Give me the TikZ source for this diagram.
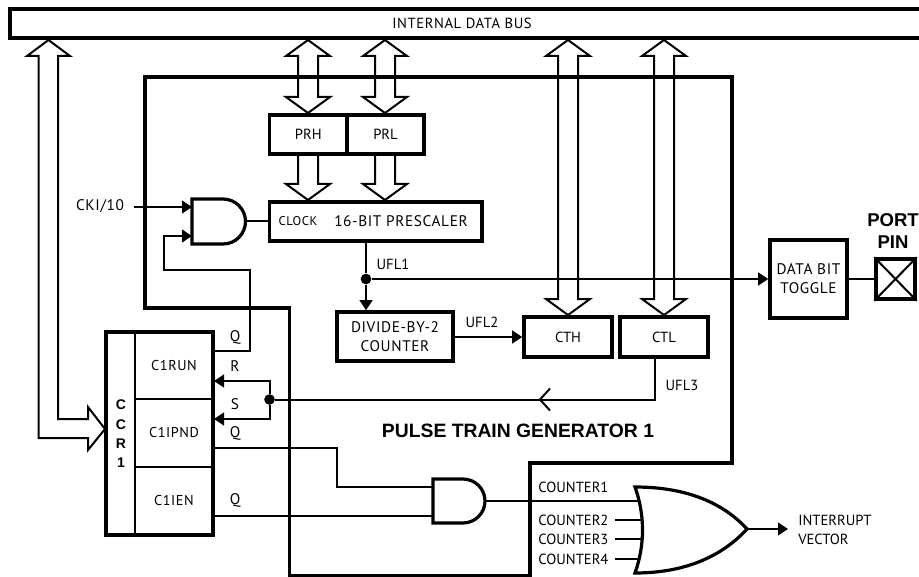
\documentclass[tikz,border=0pt]{standalone}
\usepackage{fontspec}
\setmainfont[LetterSpace=4]{PT Sans}
\newfontfamily\nrw{PT Sans}
\newfontfamily\hbfont{Liberation Sans}
\usetikzlibrary{arrows.meta,calc}
\newcommand\lab{\fontsize{11.5pt}{14.3pt}\selectfont}
\newcommand\labn{\nrw\fontsize{11pt}{14.3pt}\selectfont}
\newcommand\labm{\fontsize{10.7pt}{14.3pt}\selectfont}
\newcommand\hollowv[3]{\draw[hollow] (#1-10,#2+16) -- (#1-22,#2+16) -- (#1,#2) -- (#1+22,#2+16) -- (#1+10,#2+16) -- (#1+10,#3-16) -- (#1+22,#3-16) -- (#1,#3) -- (#1-22,#3-16) -- (#1-10,#3-16) -- cycle;}
\newcommand\hollowd[3]{\draw[hollow] (#1-10,#2) -- (#1-10,#3-16) -- (#1-22,#3-16) -- (#1,#3) -- (#1+22,#3-16) -- (#1+10,#3-16) -- (#1+10,#2);}
\newcommand\regbox[7][thickbox]{\node[#1,minimum width={(#5-#3)*0.75pt},minimum height={(#6-#4)*0.75pt}] (#2) at ({(#3+#5)/2},{(#4+#6)/2}) {#7};}
\tikzset{
  x=0.75pt,y=-0.75pt,
  thickbox/.style={draw,line width=2.7pt,inner sep=0pt,font=\lab,align=center},
  thinbox/.style={draw,line width=1.5pt,inner sep=0pt,font=\labm,align=center},
  hollow/.style={line width=1.5pt,line join=miter},
  conn/.style={line width=1.5pt},
  arr/.style={conn,-{Triangle[length=7.5pt,width=9.5pt]}},
  frame/.style={line width=2.3pt,line join=miter},
  gate/.style={line width=2.4pt,line join=miter},
  lbl/.style={font=\lab,inner sep=0pt},
  nlbl/.style={font=\labn,inner sep=0pt},
  dot/.style={circle,fill=black,draw=none,minimum size=8pt,inner sep=0pt},
  boldtxt/.style={font=\hbfont\bfseries,inner sep=0pt,align=center},
}
\begin{document}
\begin{tikzpicture}
\useasboundingbox (0,0) rectangle (919,577);
% data bus
\draw[line width=2.7pt,line join=miter] (919,9) -- (10,9) -- (10,38) -- (919,38);
\node[lbl,font=\fontsize{11pt}{14pt}\selectfont] (bus) at (462,23) {INTERNAL DATA BUS};
% pulse train frame
\draw[frame] (145,77) -- (732,77) -- (732,463) -- (530,463) -- (530,576) -- (289.5,576) -- (289.5,308) -- (145,308) -- cycle;
% hollow bus arrows
\draw[hollow] (38.5,438) -- (88,438) -- (88,450) -- (105,429) -- (88,407) -- (88,419) -- (58,419) -- (58,56) -- (70,56) -- (48.5,40) -- (27,56) -- (38.5,56) -- cycle;
\hollowv{308}{40}{113}
\hollowv{385}{40}{113}
\hollowv{568}{40}{315}
\hollowv{664}{40}{315}
\hollowd{308}{154}{200}
\hollowd{385}{154}{200}
% boxes
\regbox[thickbox,font=\labn]{prh}{269.5}{115}{347}{154}{PRH}
\regbox[thickbox,font=\labn]{prl}{347}{115}{424}{154}{PRL}
\regbox{presc}{269.5}{202}{482}{241}{}
\node[lbl] (clock) at (298,221) {\fontsize{9.5pt}{12pt}\selectfont CLOCK};
\node[lbl] (prestxt) at (401,221) {16-BIT PRESCALER};
\regbox{divide}{337}{312}{453}{361}{DIVIDE-BY-2\\COUNTER}
\regbox[thickbox,font=\labn]{cth}{524}{317}{612}{357}{CTH}
\regbox[thickbox,font=\labn]{ctl}{620}{317}{708}{357}{CTL}
\regbox{toggle}{770}{240}{847}{318}{DATA BIT\\TOGGLE}
\regbox{pin}{876}{259}{915}{299}{}
\draw[conn] (pin.north west) -- (pin.south east) (pin.south west) -- (pin.north east);
\node[boldtxt,font=\hbfont\bfseries\fontsize{13.9pt}{16.5pt}\selectfont] (port) at (893,231) {PORT\\PIN};
% CCR
\regbox[thinbox]{run}{135}{332}{213}{399}{C1RUN}
\regbox[thinbox]{ipnd}{135}{399}{213}{467}{C1IPND}
\regbox[thinbox]{ien}{135}{467}{213}{535}{C1IEN}
\regbox{ccr}{106}{332}{213}{535}{}
\draw[line width=1.8pt] (135,332) -- (135,535);
\node[boldtxt,font=\hbfont\bfseries\fontsize{10.5pt}{14.5pt}\selectfont] (ccrt) at (121,434) {C\\C\\R\\1};
\node[lbl] (q1) at (235,337) {Q};
\node[lbl] (rl) at (235,366) {R};
\node[lbl] (sl) at (235,404) {S};
\node[lbl] (q2) at (235,433) {Q};
\node[lbl] (q3) at (235,500) {Q};
% AND gates
\draw[gate] (192,199) -- (223,199) arc[start angle=-90,end angle=90,radius=22.5] -- (192,244) -- cycle;
\coordinate (a1in1) at (192,207);
\coordinate (a1in2) at (192,236);
\coordinate (a1out) at (245.5,221);
\draw[gate] (433,479) -- (463,479) arc[start angle=-90,end angle=90,radius=22] -- (433,523) -- cycle;
\coordinate (a2in1) at (433,487);
\coordinate (a2in2) at (433,516);
\coordinate (a2out) at (485,501);
% OR gate
\draw[gate] (635,487) .. controls (690,487) and (725,505) .. (747,529) .. controls (725,553) and (690,573) .. (635,573) .. controls (645,545) and (645,515) .. (635,487) -- cycle;
\coordinate (orin1) at (639,501);
\coordinate (orin2) at (642.5,520);
\coordinate (orin3) at (643,539);
\coordinate (orin4) at (639,559);
\coordinate (orout) at (747,529);
% labels and connectors
\node[lbl] (cki) at (100,206) {CKI/10};
\coordinate (ckistart) at (134,207);
\draw[arr] (ckistart) -- (a1in1);
\draw[conn] (a1out) -- (presc.west |- a1out);
\coordinate (runq) at (213,351);
\draw[arr] (runq) -- (250,351) -- (250,269.5) -- (164,269.5) -- (164,236) -- (a1in2);
\node[dot] (j1) at (366,279) {};
\draw[conn] (presc.south -| j1) -- (j1);
\draw[arr] (j1) -- (divide.north -| j1);
\draw[arr] (j1) -- (toggle.west |- j1);
\node[nlbl] (ufl1) at (393,264) {UFL1};
\coordinate (u2) at (divide.east |- 0,337);
\draw[arr] (u2) -- (cth.west |- u2);
\node[nlbl] (ufl2) at (482,322) {UFL2};
\draw[conn] (toggle.east |- j1) -- (pin.west |- j1);
\node[dot] (j2) at (269.5,399.5) {};
\draw[conn] (ctl.south -| 655,0) -- (655,399.5) -- (j2);
\node[nlbl] (ufl3) at (682,385) {UFL3};
\draw[conn,line join=miter] (550,388.5) -- (540,399.5) -- (550,410.5);
\draw[arr] (j2) -- (269.5,381) -- (run.east |- 0,381);
\draw[arr] (j2) -- (269.5,419) -- (ipnd.east |- 0,419);
\coordinate (ipq) at (213,448);
\draw[conn] (ipq) -- (337,448) -- (337,487) -- (a2in1);
\coordinate (ienq) at (213,516);
\draw[conn] (ienq) -- (a2in2);
\draw[conn] (a2out) -- (orin1);
\node[boldtxt,font=\hbfont\bfseries\fontsize{14.5pt}{16pt}\selectfont] (ptg) at (518,431) {PULSE TRAIN GENERATOR 1};
\node[nlbl,anchor=west] (c1) at (538,487) {COUNTER1};
\node[nlbl,anchor=west] (c2) at (538,520) {COUNTER2};
\node[nlbl,anchor=west] (c3) at (538,539) {COUNTER3};
\node[nlbl,anchor=west] (c4) at (538,559) {COUNTER4};
\coordinate (c2s) at (615,520);
\coordinate (c3s) at (615,539);
\coordinate (c4s) at (615,559);
\draw[conn] (c2s) -- (orin2);
\draw[conn] (c3s) -- (orin3);
\draw[conn] (c4s) -- (orin4);
\coordinate (irq) at (788,529);
\draw[arr] (orout) -- (irq);
\node[nlbl,anchor=west] (i1) at (798,520) {INTERRUPT};
\node[nlbl,anchor=west] (i2) at (798,539) {VECTOR};
\end{tikzpicture}
\end{document}
